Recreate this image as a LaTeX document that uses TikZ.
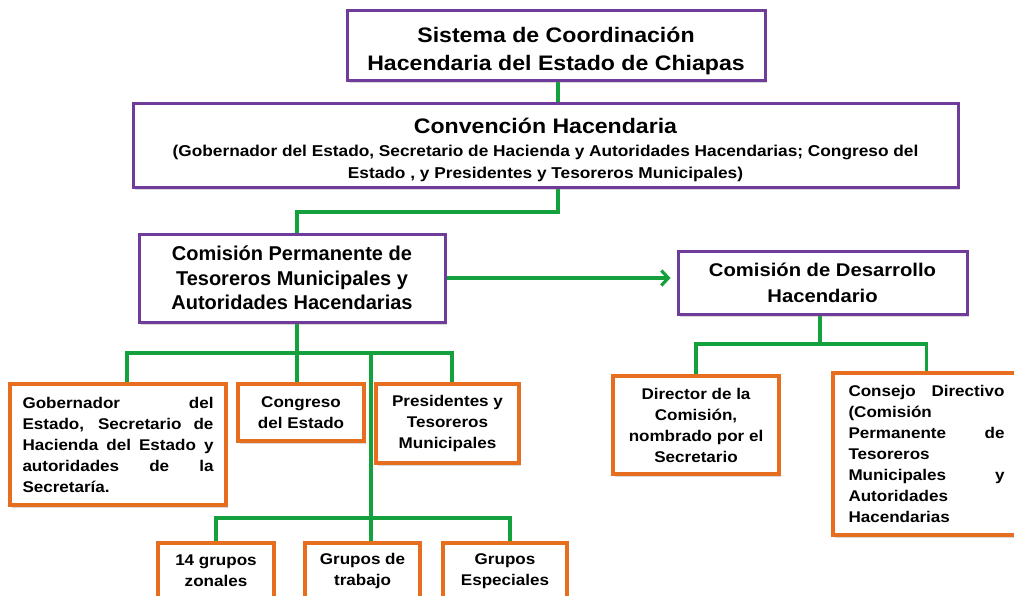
\documentclass[tikz,border=0pt]{standalone}
\usepackage{fontspec}
\setmainfont{Liberation Sans}[FakeStretch=1.1]
\newfontfamily\cpfont{Liberation Sans}
\usetikzlibrary{arrows.meta,shadows}
\definecolor{boxpurple}{RGB}{112,60,155}
\definecolor{boxorange}{RGB}{230,110,30}
\definecolor{linegreen}{RGB}{20,160,60}
\pgfdeclarelayer{bg}
\pgfsetlayers{bg,main}
\newcommand\jline[2]{\makebox[#1][s]{#2}}
\begin{document}
\begin{tikzpicture}[x=1pt,y=-1pt,
  pbox/.style={draw=boxpurple, line width=3pt, fill=white, align=center, inner sep=0pt,
    drop shadow={shadow xshift=2pt,shadow yshift=-2.5pt,opacity=0.3}},
  obox/.style={draw=boxorange, line width=3.5pt, fill=white, align=center, inner sep=0pt,
    font=\bfseries\fontsize{15.5}{21}\selectfont,
    drop shadow={shadow xshift=2pt,shadow yshift=-2.5pt,opacity=0.3}},
  conn/.style={draw=linegreen, line width=3.2pt},
]
\useasboundingbox (0,0) rectangle (1014,595);

% purple boxes
\node[pbox, minimum width=418pt, minimum height=70pt, font=\bfseries\fontsize{21}{28}\selectfont]
  (sis) at (556,45) {\rule{0pt}{27pt}Sistema de Coordinación\\Hacendaria del Estado de Chiapas};
\node[pbox, minimum width=825pt, minimum height=84pt, font=\bfseries\fontsize{15.7}{22}\selectfont]
  (conv) at (545.5,145) {{\fontsize{21}{23}\selectfont\rule{0pt}{26pt}Convención Hacendaria}\\[1pt]
  (Gobernador del Estado, Secretario de Hacienda y Autoridades Hacendarias; Congreso del\\
  Estado , y Presidentes y Tesoreros Municipales)};
\node[pbox, minimum width=306pt, minimum height=88pt, font=\cpfont\bfseries\fontsize{20}{24.5}\selectfont]
  (cpt) at (292,278) {Comisión Permanente de\\Tesoreros Municipales y\\Autoridades Hacendarias};
\node[pbox, minimum width=289pt, minimum height=63pt, font=\bfseries\fontsize{18.4}{26}\selectfont]
  (cdh) at (822.5,282.5) {Comisión de Desarrollo\\Hacendario};

% orange boxes
\node[obox, minimum width=216pt, minimum height=121pt] (gob) at (118,444.5)
  {\jline{191pt}{Gobernador del}\\\jline{191pt}{Estado, Secretario de}\\
   \jline{191pt}{Hacienda del Estado y}\\\jline{191pt}{autoridades de la}\\
   \makebox[191pt][l]{Secretaría.}};
\node[obox, minimum width=126pt, minimum height=57pt] (cong) at (301,412.5) {Congreso\\del Estado};
\node[obox, minimum width=143pt, minimum height=79pt] (pres) at (447.5,423.5) {Presidentes y\\Tesoreros\\Municipales};
\node[obox, minimum width=116pt, minimum height=56pt] (g14) at (216,571) {14 grupos\\zonales};
\node[obox, minimum width=115pt, minimum height=56pt] (gtr) at (362.5,571) {Grupos de\\trabajo};
\node[obox, minimum width=124pt, minimum height=56pt] (ges) at (505,571) {Grupos\\Especiales};
\node[obox, minimum width=166pt, minimum height=98pt] (dir) at (696,425)
  {Director de la\\Comisión,\\nombrado por el\\Secretario};
\node[obox, minimum width=187pt, minimum height=162pt] (con) at (926.5,454)
  {\jline{156pt}{Consejo Directivo}\\\makebox[156pt][l]{(Comisión}\\
   \jline{156pt}{Permanente de}\\\makebox[156pt][l]{Tesoreros}\\
   \jline{156pt}{Municipales y}\\\makebox[156pt][l]{Autoridades}\\
   \makebox[156pt][l]{Hacendarias}};

% junctions
\coordinate (j0) at (558,212);
\coordinate (j1) at (297,353);
\coordinate (j2) at (371,353);
\coordinate (j3) at (371,518);
\coordinate (j4) at (820,344);

\begin{pgfonlayer}{bg}
\draw[conn] ([xshift=2pt]sis.south) -- ([xshift=12.5pt]conv.north);
\draw[conn] ([xshift=12.5pt]conv.south) -- (j0) -| ([xshift=5pt]cpt.north);
\draw[conn] ([xshift=5pt]cpt.south) -- (j1);
\draw[conn] ([xshift=9pt]gob.north) |- (j1);
\draw[conn] (j1) -| ([xshift=4.5pt]pres.north);
\draw[conn] (j1) -- ([xshift=-4pt]cong.north);
\draw[conn] (j2) -- ([xshift=8.5pt]gtr.north);
\draw[conn] (g14.north) |- (j3);
\draw[conn] (j3) -| ([xshift=5pt]ges.north);
\draw[conn] ([xshift=-2.5pt]cdh.south) -- (j4);
\draw[conn] (dir.north) |- (j4);
\draw[conn] (j4) -| (con.north);
\end{pgfonlayer}
\draw[conn, -{Straight Barb[length=7pt,width=15pt]}, shorten >=6pt] (cpt.east) -- (cpt.east -| cdh.west);
\end{tikzpicture}
\end{document}
